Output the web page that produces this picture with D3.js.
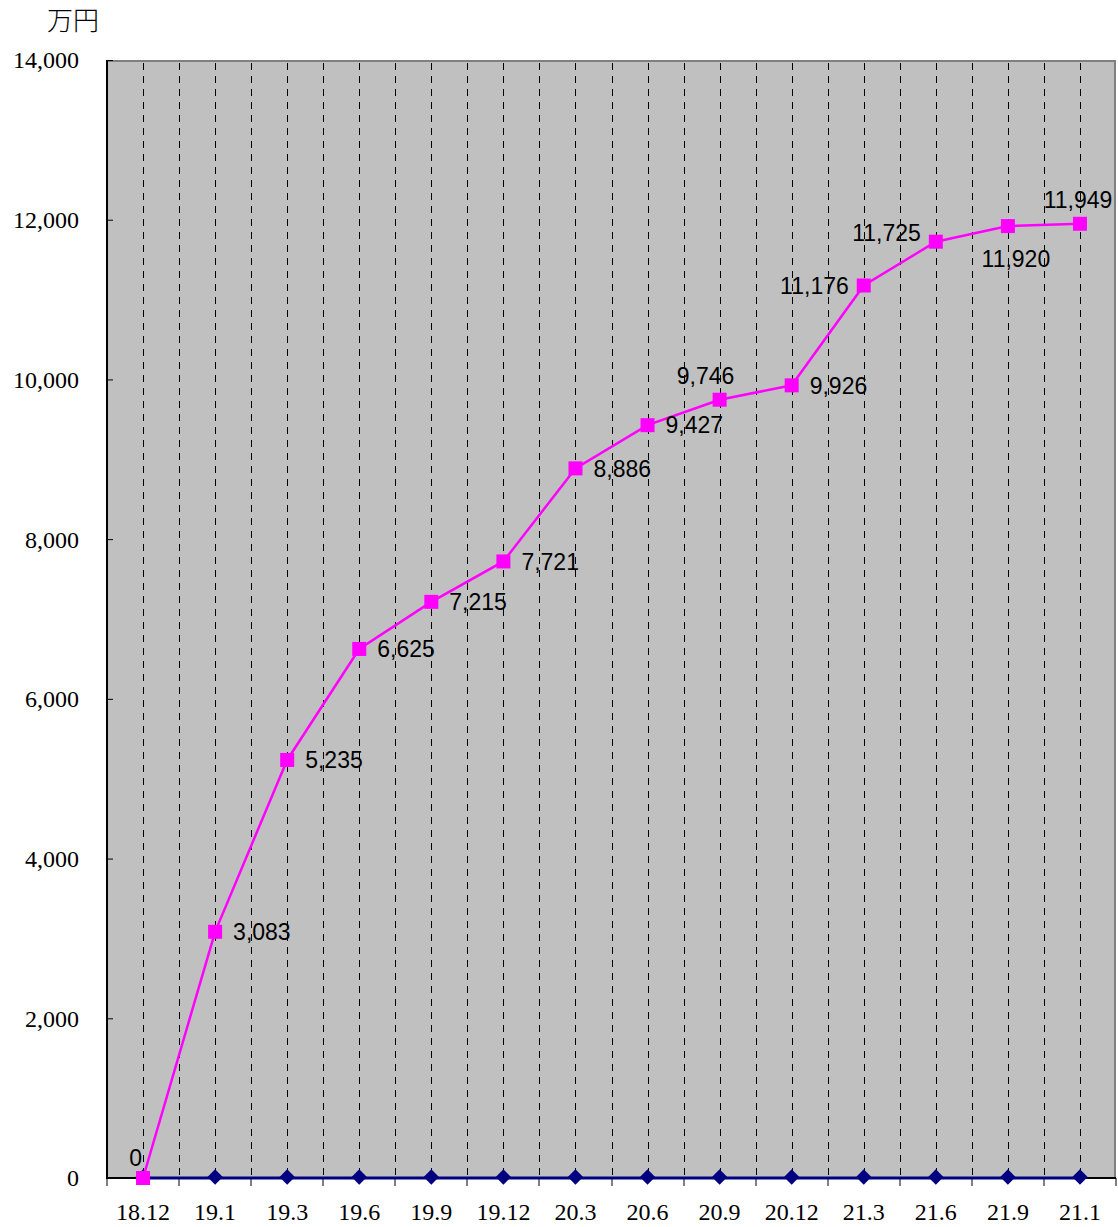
<!DOCTYPE html>
<html><head><meta charset="utf-8">
<script src="https://cdn.jsdelivr.net/npm/d3@7"></script>
<style>body{margin:0;background:#fff;}svg{display:block;}</style>
</head><body>
<svg id="chart" width="1118" height="1227"></svg>
<script>
const categories = ["18.12","19.1","19.3","19.6","19.9","19.12","20.3","20.6","20.9","20.12","21.3","21.6","21.9","21.1"];
const seriesMain = [0,3083,5235,6625,7215,7721,8886,9427,9746,9926,11176,11725,11920,11949];
const seriesBase = [0,0,0,0,0,0,0,0,0,0,0,0,0,0];
const yTicks = [0,2000,4000,6000,8000,10000,12000,14000];
const labelPos = ["tl","r","r","r","r","r","r","r","t","r","l","tl","b","t"];
const unitLabel = "万円";

const svg = d3.select("#chart");
const L = 107, R = 1116, T = 60, B = 1178;
const x = d3.scaleBand().domain(categories).range([L, R]).paddingInner(0).paddingOuter(0);
const y = d3.scaleLinear().domain([0, 14000]).range([B, T]);
const cx = d => x(d) + x.bandwidth() / 2;

svg.append("rect").attr("x", L).attr("y", T).attr("width", R - L).attr("height", B - T)
  .attr("fill", "#c0c0c0");
svg.append("path").attr("d", `M${L},${T + 1}H${R - 1}V${B}`).attr("fill", "none")
  .attr("stroke", "#808080").attr("stroke-width", 2);

const gridXs = [];
categories.forEach((c, i) => { if (i > 0) gridXs.push(x(c)); gridXs.push(cx(c)); });
svg.append("g").selectAll("line").data(gridXs).join("line")
  .attr("x1", d => Math.round(d) + 0.5).attr("x2", d => Math.round(d) + 0.5)
  .attr("y1", T + 3).attr("y2", B)
  .attr("stroke", "#000").attr("stroke-width", 1).attr("stroke-dasharray", "7,6");

const yAxis = d3.axisRight(y).tickValues(yTicks).tickSize(6).tickFormat("");
const gy = svg.append("g").attr("transform", `translate(${L},0)`).call(yAxis);
gy.select(".domain").remove();
gy.selectAll(".tick line").attr("stroke", "#000");
svg.append("line").attr("x1", L).attr("x2", L).attr("y1", T).attr("y2", B + 1)
  .attr("stroke", "#000").attr("stroke-width", 2);
svg.append("g").selectAll("text").data(yTicks).join("text")
  .attr("x", 79).attr("y", d => y(d)).attr("dy", "0.35em").attr("text-anchor", "end")
  .attr("font-family", "'Liberation Serif', serif").attr("font-size", 24).attr("fill", "#000")
  .text(d => d3.format(",")(d));

svg.append("line").attr("x1", L).attr("x2", R).attr("y1", B).attr("y2", B)
  .attr("stroke", "#000").attr("stroke-width", 2);
const bounds = categories.map(c => x(c)).concat([R]);
svg.append("g").selectAll("line").data(bounds).join("line")
  .attr("x1", d => Math.round(d)).attr("x2", d => Math.round(d))
  .attr("y1", B).attr("y2", B + 8).attr("stroke", "#000").attr("stroke-width", 1);
svg.append("g").selectAll("text").data(categories).join("text")
  .attr("x", d => cx(d)).attr("y", 1220).attr("text-anchor", "middle")
  .attr("font-family", "'Liberation Serif', serif").attr("font-size", 24).attr("fill", "#000")
  .text(d => d);

svg.append("text").attr("x", 47).attr("y", 30)
  .attr("font-family", "'Noto Sans CJK JP', sans-serif").attr("font-weight", 300)
  .attr("font-size", 26).attr("fill", "#000").text(unitLabel);

const line = d3.line().x((d, i) => cx(categories[i])).y(d => y(d));
svg.append("path").datum(seriesBase).attr("d", line).attr("fill", "none")
  .attr("stroke", "#000080").attr("stroke-width", 3);
svg.append("g").selectAll("path").data(seriesBase).join("path")
  .attr("transform", (d, i) => `translate(${cx(categories[i])},${y(d) - 1})`)
  .attr("d", d3.symbol(d3.symbolDiamond2 || d3.symbolDiamond, 150)())
  .attr("fill", "#000080");

svg.append("path").datum(seriesMain).attr("d", line).attr("fill", "none")
  .attr("stroke", "#ff00ff").attr("stroke-width", 2.5);
svg.append("g").selectAll("rect").data(seriesMain).join("rect")
  .attr("x", (d, i) => cx(categories[i]) - 7).attr("y", d => y(d) - 7)
  .attr("width", 14).attr("height", 14).attr("fill", "#ff00ff");

const off = {
  r:  {dx: 18, dy: 0, a: "start"},
  l:  {dx: -15, dy: 0, a: "end"},
  t:  {dx: -14, dy: -24, a: "middle"},
  tl: {dx: -15, dy: -9, a: "end"},
  b:  {dx: 8, dy: 33, a: "middle"}
};
svg.append("g").selectAll("text").data(seriesMain).join("text")
  .attr("x", (d, i) => {
    let dx = off[labelPos[i]].dx;
    if (i === 0) dx = -1;
    if (i === 13) dx = -2;
    return cx(categories[i]) + dx;
  })
  .attr("y", (d, i) => {
    let dy = off[labelPos[i]].dy;
    if (i === 0) dy = -20;
    return y(d) + dy;
  })
  .attr("dy", "0.36em")
  .attr("text-anchor", (d, i) => off[labelPos[i]].a)
  .attr("font-family", "'Liberation Sans', Arial, sans-serif").attr("font-size", 23)
  .attr("fill", "#000")
  .text(d => d3.format(",")(d));
</script>
</body></html>
